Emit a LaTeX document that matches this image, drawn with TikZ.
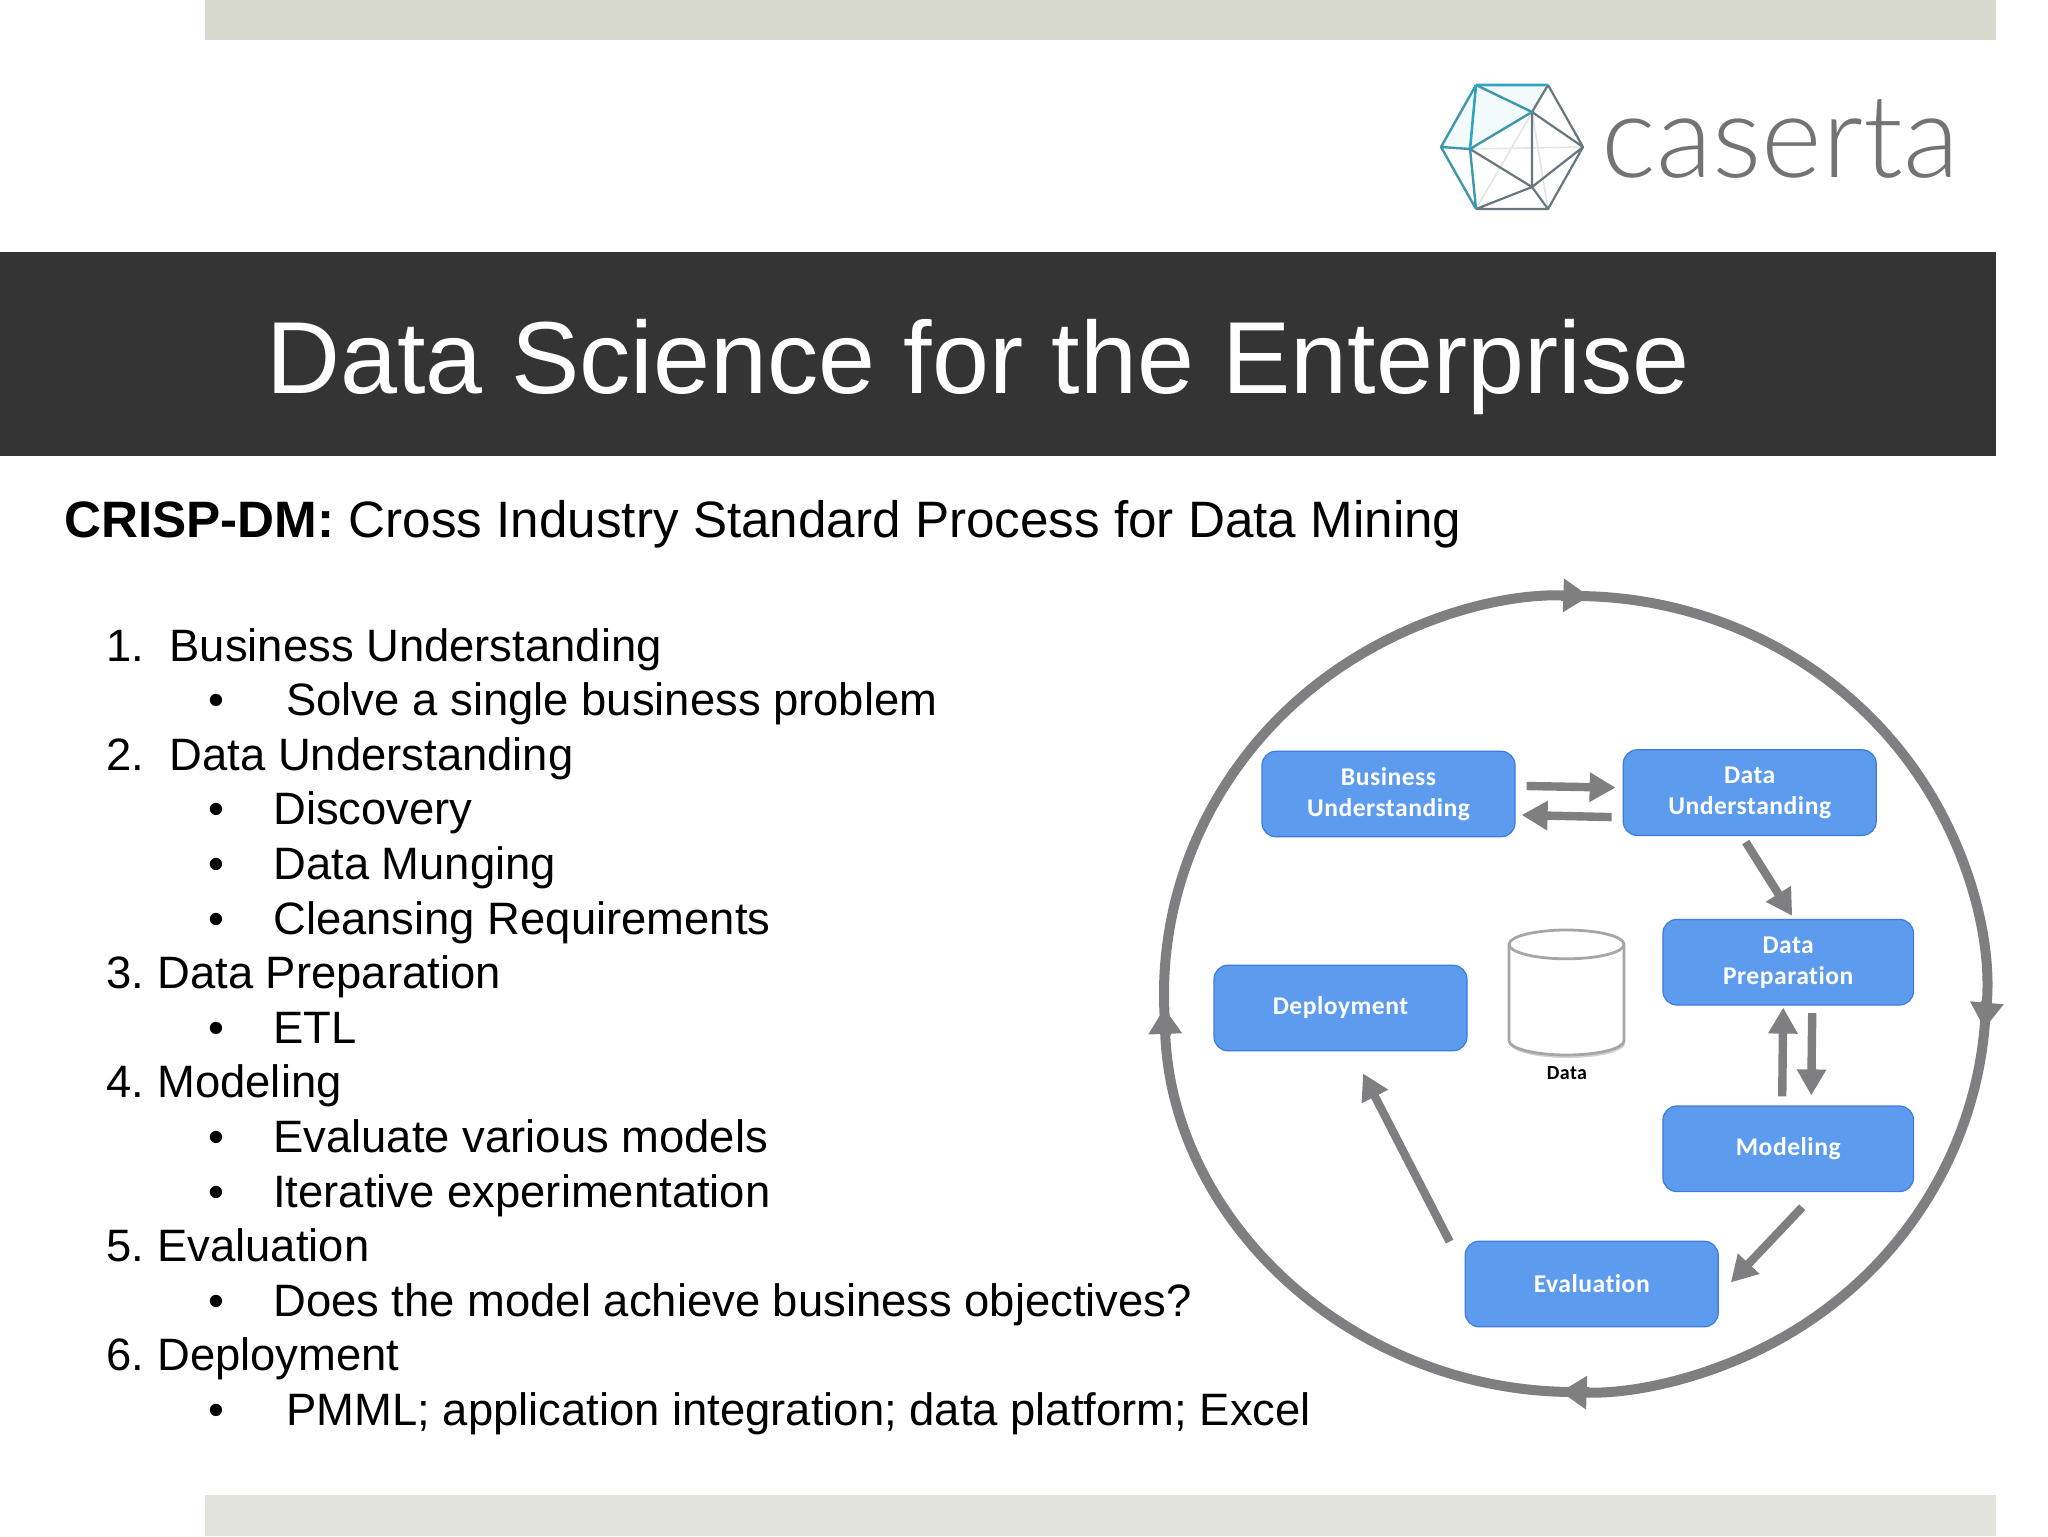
\documentclass[tikz,border=0pt]{standalone}
\usepackage{fontspec}
\setmainfont{Liberation Sans}
\newfontfamily\boxfont{Carlito}[LetterSpace=2,Ligatures=NoCommon]
\newfontfamily\logofont{Lato Light}
\usetikzlibrary{positioning}
\usetikzlibrary{arrows.meta}
\usetikzlibrary{shadows}
\definecolor{barTop}{HTML}{D7D9CC}
\definecolor{barBottom}{HTML}{E2E4DA}
\definecolor{banner}{HTML}{343434}
\definecolor{stepFill}{HTML}{5C9BEE}
\definecolor{stepLine}{HTML}{3F7BDC}
\definecolor{flowGray}{HTML}{7F7F82}
\definecolor{logoTeal}{HTML}{2FA5C2}
\definecolor{logoGray}{HTML}{66787E}
\definecolor{logoText}{HTML}{737376}
\newcommand{\numbered}[2]{\makebox[#1][l]{#2}}
\newcommand{\bulleted}[1]{\makebox[#1][l]{\textbullet}}
\tikzset{
	phase/.style={
		draw=stepLine,
		fill=stepFill,
		text=white,
		line width=.6pt,
		rounded corners=7pt,
		minimum width=126.5pt,
		minimum height=42.8pt,
		inner sep=0pt,
		align=center,
		font=\boxfont\bfseries\fontsize{12.8}{15.5}\selectfont,
	},
	narrowphase/.style={phase,minimum width=125.3pt},
	flow/.style={
		draw=flowGray,
		line width=4.2pt,
		-{Triangle[length=13pt,width=14pt]},
	},
	ring/.style={
		draw=flowGray,
		line width=5pt,
		-{Triangle[length=13pt,width=16pt]},
	},
	listline/.style={
		anchor=base west,
		inner sep=0pt,
		font=\fontsize{22.7}{27}\selectfont,
	},
	storeline/.style={
		draw=black!35,
		line width=1.4pt,
	},
}
\begin{document}
\begin{tikzpicture}[x=.5pt,y=-.5pt]
	\useasboundingbox (0,0) rectangle (2048,1536);
	% bars and title
	\fill[barTop] (205,0) rectangle (1996,40);
	\fill[barBottom] (205,1495) rectangle (1996,1536);
	\fill[banner] (0,252) rectangle (1996,456);
	\node[anchor=base west,inner sep=0pt,text=white,font=\fontsize{51.2}{60}\selectfont] (title) at (266,393) {Data Science for the Enterprise};
	\node[anchor=base west,inner sep=0pt,font=\fontsize{25.6}{30}\selectfont] (crisp) at (64,537) {\textbf{CRISP-DM:} Cross Industry Standard Process for Data Mining};
	% left side of the picture
	\node[listline] (item1) at (106,661) {\numbered{31.6pt}{1.}Business Understanding};
	\node[listline] (item1a) at (208,715.6) {\bulleted{39pt}Solve a single business problem};
	\node[listline] (item2) at (106,770.2) {\numbered{31.6pt}{2.}Data Understanding};
	\node[listline] (item2a) at (208,824.8) {\bulleted{32.5pt}Discovery};
	\node[listline] (item2b) at (208,879.4) {\bulleted{32.5pt}Data Munging};
	\node[listline] (item2c) at (208,934) {\bulleted{32.5pt}Cleansing Requirements};
	\node[listline] (item3) at (106,988.6) {\numbered{25.5pt}{3.}Data Preparation};
	\node[listline] (item3a) at (208,1043.2) {\bulleted{32.5pt}ETL};
	\node[listline] (item4) at (106,1097.8) {\numbered{25.5pt}{4.}Modeling};
	\node[listline] (item4a) at (208,1152.4) {\bulleted{32.5pt}Evaluate various models};
	\node[listline] (item4b) at (208,1207) {\bulleted{32.5pt}Iterative experimentation};
	\node[listline] (item5) at (106,1261.6) {\numbered{25.5pt}{5.}Evaluation};
	\node[listline] (item5a) at (208,1316.2) {\bulleted{32.5pt}Does the model achieve business objectives?};
	\node[listline] (item6) at (106,1370.8) {\numbered{25.5pt}{6.}Deployment};
	\node[listline] (item6a) at (208,1425.4) {\bulleted{39pt}PMML; application integration; data platform; Excel};
	% logo
	\coordinate (la) at (1476,85);
	\coordinate (lb) at (1548,85);
	\coordinate (lc) at (1583,147);
	\coordinate (ld) at (1548,209);
	\coordinate (le) at (1476,209);
	\coordinate (lf) at (1441,147);
	\coordinate (lp) at (1532,112);
	\coordinate (lq) at (1470,149);
	\coordinate (lr) at (1532,187);
	\fill[logoTeal!6] (la)--(lb)--(lp)--(lq)--(lf)--cycle;
	\draw[black!10,line width=.8pt] (lq)--(lc) (le)--(lb) (lp)--(ld);
	\draw[logoGray,line width=1.1pt,line join=round] (lb)--(lc)--(ld)--(le) (lp)--(lc) (lp)--(lr) (lq)--(lr)--(lc) (lr)--(ld) (lr)--(le) (lb)--(lp);
	\draw[logoTeal!70!logoGray,line width=1.2pt,line join=round] (le)--(lf)--(la) (lf)--(lq)--(le) (la)--(lp)--(lq);
	\draw[logoTeal,line width=1.3pt] (la)--(lb) (la)--(lq);
	\node[anchor=base west,inner sep=0pt,text=logoText,font=\logofont\fontsize{58}{60}\selectfont] (logotext) at (1601,177) {caserta};
	% the outer cycle
	\coordinate (ringc) at (1575,994);
	\draw[ring] ([shift={(186:205.5pt and 199pt)}]ringc) arc[start angle=186,end angle=88,x radius=205.5pt,y radius=199pt];
	\draw[ring] ([shift={(92:205.5pt and 199pt)}]ringc) arc[start angle=92,end angle=-5,x radius=205.5pt,y radius=199pt];
	\draw[ring] ([shift={(-1:205.5pt and 199pt)}]ringc) arc[start angle=-1,end angle=-92,x radius=205.5pt,y radius=199pt];
	\draw[ring] ([shift={(-88:205.5pt and 199pt)}]ringc) arc[start angle=-88,end angle=-178,x radius=205.5pt,y radius=199pt];
	% the process steps
	\node[phase] (business) at (1388.5,794) {Business\\Understanding};
	\node[phase] (dataund) [right=53.5pt of business,yshift=.7pt] {Data\\Understanding};
	\node[narrowphase] (dataprep) [below=41.4pt of dataund,xshift=19.25pt] {Data\\Preparation};
	\node[narrowphase] (modeling) [below=49.9pt of dataprep] {Modeling};
	\node[phase] (evaluation) [below=24.2pt of modeling,xshift=-98.25pt] {Evaluation};
	\node[phase] (deployment) at (1340.5,1008) {Deployment};
	% the data store
	\coordinate (storetop) at (1566.5,944.4);
	\coordinate (storebase) at (1566.5,1040.6);
	\draw[storeline,fill=white,drop shadow={shadow xshift=.5pt,shadow yshift=-1.5pt,opacity=.35}] ([xshift=-28.75pt]storetop) arc[start angle=180,end angle=0,x radius=28.75pt,y radius=7.2pt] -- ([xshift=28.75pt]storebase) arc[start angle=0,end angle=-180,x radius=28.75pt,y radius=7.2pt] -- cycle;
	\draw[storeline] ([xshift=-28.75pt]storetop) arc[start angle=180,end angle=360,x radius=28.75pt,y radius=7.2pt];
	\node[inner sep=0pt,font=\boxfont\bfseries\fontsize{10}{12}\selectfont] (storelabel) at (1567,1073) {Data};
	% draw the connection lines
	\draw[flow] ([shift={(11,-8)}]business.east) -- ([shift={(-7,-5)}]dataund.west);
	\draw[flow] ([shift={(-11,24.5)}]dataund.west) -- ([shift={(6,21)}]business.east);
	\draw[flow] ([shift={(-4,6)}]dataund.south) -- ([shift={(4,-3)}]dataprep.north);
	\draw[flow] ([shift={(24,7.5)}]dataprep.south) -- ([shift={(23,-10)}]modeling.north);
	\draw[flow] ([shift={(-6,-9)}]modeling.north) -- ([shift={(-5,2)}]dataprep.south);
	\draw[flow] ([shift={(14,15)}]modeling.south) -- ([shift={(12,-1.5)}]evaluation.east);
	\draw[flow] ([shift={(-15,1)}]evaluation.north west) -- ([shift={(22.5,22)}]deployment.south);
\end{tikzpicture}
\end{document}
